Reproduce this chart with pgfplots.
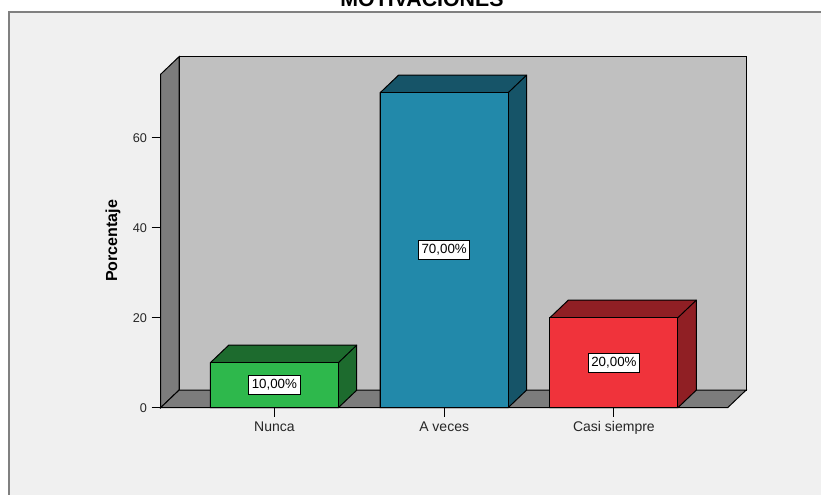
\documentclass[border=0pt]{standalone}
\usepackage{fontspec}
\setmainfont{Liberation Sans}
\usepackage{pgfplots}
\usepackage{pgfplotstable}
\pgfplotsset{compat=1.18}
\definecolor{bgfr}{HTML}{F0F0F0}
\definecolor{wallback}{HTML}{C0C0C0}
\definecolor{wallside}{HTML}{7C7C7C}
\definecolor{gfront}{HTML}{2EB84C}
\definecolor{gdark}{HTML}{1D6B2E}
\definecolor{bfront}{HTML}{2289AA}
\definecolor{bdark}{HTML}{165468}
\definecolor{rfront}{HTML}{F0333B}
\definecolor{rdark}{HTML}{901F24}

\pgfplotstableread{
x v
0 10
1 70
2 20
}\datatable

\begin{document}
\begin{tikzpicture}
\path[use as bounding box] (0,0) rectangle (615.75pt,371.25pt);
\fill[white] (0,0) rectangle (615.75pt,371.25pt);
\draw[fill=bgfr, draw=gray, line width=1.1pt] (6.75pt,-10pt) rectangle (630pt,362.25pt);
\node[font=\bfseries\fontsize{16}{18}\selectfont, anchor=base] at (316.5pt,366.2pt) {MOTIVACIONES};

\begin{axis}[
  at={(120.5pt,65.5pt)}, anchor=south west,
  scale only axis, width=425.25pt, height=250.05pt,
  xmin=-0.67, xmax=2.67, ymin=0, ymax=74.1,
  clip=false,
  axis x line*=bottom, axis y line*=left,
  axis line style={black, line width=0.75pt},
  xtick={0,1,2}, xticklabels={Nunca, A veces, Casi siempre},
  ytick={0,20,40,60},
  tick align=outside, major tick length=6.75pt,
  tick style={black, line width=0.75pt},
  yticklabel style={font=\fontsize{9.5}{10}\selectfont, text=black!85},
  xticklabel style={font=\fontsize{10.5}{11}\selectfont, text=black!85},
  /pgf/number format/assume math mode=true,
  ylabel={Porcentaje},
  every axis y label/.style={at={(axis description cs:0,0.5)}, xshift=-35.8pt, rotate=90, anchor=center, font=\bfseries\fontsize{12}{13}\selectfont},
]
% walls
\addplot[fill=wallback, draw=black, line width=0.75pt] coordinates {(-0.562,3.89) (2.778,3.89) (2.778,77.99) (-0.562,77.99)} -- cycle;
\addplot[fill=wallside, draw=black, line width=0.75pt] coordinates {(-0.67,0) (-0.562,3.89) (-0.562,77.99) (-0.67,74.1)} -- cycle;
\addplot[fill=wallside, draw=black, line width=0.75pt] coordinates {(-0.67,0) (2.67,0) (2.778,3.89) (-0.562,3.89)} -- cycle;
% Nunca
\addplot[fill=gdark, draw=black, line width=0.75pt] coordinates {(-0.377,0) (0.377,0) (0.485,3.89) (0.485,13.89) (-0.269,13.89) (-0.377,10)} -- cycle;
\addplot[ybar, bar width=0.754, bar shift=0pt, fill=gfront, draw=black, line width=0.75pt] coordinates {(0,10)};
\addplot[draw=black, line width=0.75pt] coordinates {(0.377,10) (0.485,13.89)};
% A veces
\addplot[fill=bdark, draw=black, line width=0.75pt] coordinates {(0.623,0) (1.377,0) (1.485,3.89) (1.485,73.89) (0.731,73.89) (0.623,70)} -- cycle;
\addplot[ybar, bar width=0.754, bar shift=0pt, fill=bfront, draw=black, line width=0.75pt] coordinates {(1,70)};
\addplot[draw=black, line width=0.75pt] coordinates {(1.377,70) (1.485,73.89)};
% Casi siempre
\addplot[fill=rdark, draw=black, line width=0.75pt] coordinates {(1.623,0) (2.377,0) (2.485,3.89) (2.485,23.89) (1.731,23.89) (1.623,20)} -- cycle;
\addplot[ybar, bar width=0.754, bar shift=0pt, fill=rfront, draw=black, line width=0.75pt] coordinates {(2,20)};
\addplot[draw=black, line width=0.75pt] coordinates {(2.377,20) (2.485,23.89)};
% labels
\addplot[only marks, mark=*, mark size=0pt, mark options={draw=none, fill=none},
  point meta=explicit,
  nodes near coords={\pgfmathprintnumber[fixed, fixed zerofill, precision=2, use comma]{\pgfplotspointmeta}\%},
  every node near coord/.style={anchor=center, draw=black, fill=white, line width=0.6pt, inner xsep=2.2pt, inner ysep=2.5pt, text height=7.2pt, text depth=1.8pt, font=\fontsize{10}{11}\selectfont, text=black}]
  table[x=x, y expr=\thisrow{v}/2, meta=v] {\datatable};
\end{axis}
\end{tikzpicture}
\end{document}
